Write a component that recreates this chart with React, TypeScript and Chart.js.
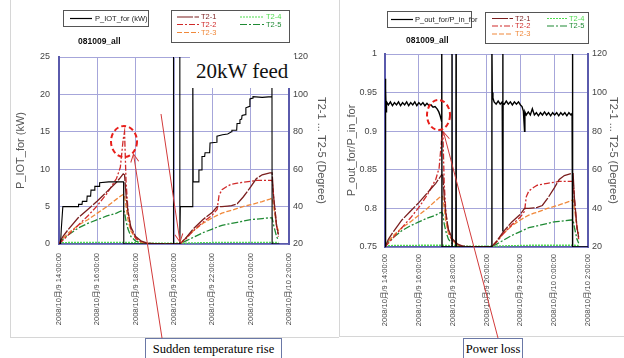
import React, { useEffect, useRef } from 'react';
import { Chart, registerables } from 'chart.js';

Chart.register(...registerables);

// ---------------- data ----------------
const X_TICK_HOURS = [14, 16, 18, 20, 22, 24, 26];
const X_TICK_LABELS = [
  '2008/10月/9 14:00:00',
  '2008/10月/9 16:00:00',
  '2008/10月/9 18:00:00',
  '2008/10月/9 20:00:00',
  '2008/10月/9 22:00:00',
  '2008/10月/10 0:00:00',
  '2008/10月/10 2:00:00',
];
const KW_TICKS = [0, 5, 10, 15, 20, 25];
const RATIO_TICKS = [0.75, 0.8, 0.85, 0.9, 0.95, 1];
const DEG_TICKS = [20, 40, 60, 80, 100, 120];

const T2_NAMES = ['T2-1', 'T2-2', 'T2-3', 'T2-4', 'T2-5'];

// P_IOT_for (kW) vs time (hours from 2008/10/9 0:00)
const P_TIME = [14.0, 14.08, 14.12, 14.2, 15.0, 15.02, 15.2, 15.22, 15.45, 15.47, 15.65, 15.67, 15.85, 15.87, 16.1,
  16.12, 16.6, 17.37, 17.38, 19.96, 19.97, 19.98, 20.29, 20.3, 20.31, 20.33, 20.97, 20.98, 21.0, 21.28,
  21.3, 21.44, 21.46, 21.6, 21.62, 21.86, 21.88, 22.22, 22.24, 22.53, 22.8, 23.0, 23.02, 23.27, 23.29,
  23.42, 23.44, 23.53, 23.55, 23.73, 23.75, 23.94, 23.96, 24.1, 24.12, 24.6, 25.1, 25.11, 25.12, 25.5];
const P_IOT = [0, 0, 2, 5, 5, 5.3, 5.3, 5.7, 5.7, 6.4, 6.4, 7.2, 7.2, 7.7, 7.7,
  8.2, 8.3, 8.3, 0, 0, 26, 0, 0, 26, 0, 5, 5, 26, 8.3, 8.3,
  9.9, 9.9, 11.7, 11.7, 12.2, 12.2, 13.5, 13.6, 14.4, 14.6, 14.7, 15.0, 15.2, 15.2, 16.1,
  16.1, 16.6, 16.7, 17.2, 17.3, 18.2, 18.4, 19.4, 19.5, 19.7, 19.6, 19.7, 26, 0, 0];

// P_out_for / P_in_for
const RATIO_TIME = [
  14.0, 14.02, 14.03, 14.05, 14.07, 14.09,
  14.2, 14.32, 14.44, 14.56, 14.68, 14.8, 14.92, 15.04, 15.16, 15.28, 15.4, 15.52, 15.64, 15.76, 15.88, 16.0, 16.12, 16.24, 16.36, 16.48, 16.6, 16.72, 16.84, 16.96,
  17.08, 17.18, 17.26, 17.32, 17.35, 17.36, 17.37,
  17.95, 17.96, 17.97, 18.19, 18.2, 18.21,
  20.31, 20.32, 20.34, 20.38, 20.45,
  20.57, 20.69, 20.81, 20.93, 20.96, 20.97, 20.975, 20.98, 21.05, 21.17, 21.29, 21.41, 21.53, 21.65, 21.77, 21.89, 22.01,
  22.1, 22.18, 22.25, 22.27, 22.35, 22.47, 22.59, 22.71, 22.83, 22.95, 23.07, 23.19, 23.31, 23.43, 23.55, 23.67, 23.79, 23.91, 24.03, 24.15, 24.27, 24.39, 24.51, 24.63, 24.75, 24.87, 24.99,
  25.06, 25.08, 25.1, 26.0];
const RATIO = [
  0.75, 0.75, 0.968, 0.955, 0.925, 0.938,
  0.934, 0.938, 0.933, 0.937, 0.934, 0.938, 0.933, 0.937, 0.934, 0.938, 0.933, 0.937, 0.934, 0.938, 0.933, 0.937, 0.934, 0.937, 0.933, 0.936, 0.933, 0.934, 0.931, 0.932,
  0.929, 0.925, 0.92, 0.915, 0.912, 1.01, 0.75,
  0.75, 1.01, 0.75, 0.75, 1.01, 0.75,
  0.75, 1.01, 0.95, 0.943, 0.938,
  0.935, 0.939, 0.935, 0.938, 0.937, 1.01, 0.77, 0.936, 0.935, 0.939, 0.935, 0.938, 0.934, 0.938, 0.935, 0.938, 0.934,
  0.932, 0.926, 0.9, 0.925, 0.921, 0.925, 0.921, 0.929, 0.921, 0.924, 0.92, 0.924, 0.921, 0.925, 0.921, 0.924, 0.92, 0.924, 0.921, 0.924, 0.92, 0.924, 0.921, 0.924, 0.92, 0.924, 0.921,
  0.923, 1.01, 0.75, 0.75];

// Temperatures (Degree)
const TEMP_TIME = [14.0, 14.2, 14.5, 15.0, 15.5, 16.0, 16.5, 17.0, 17.2, 17.35, 17.42, 17.5, 17.6, 17.75, 18.0, 18.3, 18.6, 19.0,
  20.3, 20.6, 21.0, 21.5, 22.0, 22.25, 22.35, 22.5, 22.8, 23.0, 23.3, 23.6, 24.0, 24.3, 24.6, 25.0, 25.12, 25.2, 25.35, 25.45];
const T2_1 = [20, 24, 28, 34, 38.5, 43, 48, 53, 55.5, 57.5, 57, 46, 37, 29, 24, 21.5, 20.5, 20.2,
  20, 23, 28, 33, 37, 40, 40, 40, 40.3, 40.5, 41.5, 45, 50.5, 55, 57, 58, 58, 45, 30, 25];
const T2_2 = [20, 22, 25, 30, 35, 40.5, 47, 55, 61, 76, 80, 53, 38, 28, 23, 21, 20.3, 20,
  20, 22.5, 27, 31.5, 35.5, 38.5, 46, 49, 51, 52, 52.5, 53, 53.5, 54, 54, 54, 54, 45, 30, 24];
const T2_3 = [20, 23, 26, 30, 33, 36.5, 40, 44, 45.5, 46.5, 46, 40, 33, 27, 23, 21, 20.3, 20,
  20, 23, 27, 31, 34, 35.3, 35.8, 36.5, 37.5, 38, 39, 40, 41, 41.8, 42.7, 44, 44.5, 40, 30, 27];
const T2_4 = [20.6, 20.7, 20.8, 20.8, 20.8, 20.9, 20.9, 20.9, 20.9, 20.9, 20.9, 20.9, 20.8, 20.8, 20.7, 20.6, 20.5, 20.4,
  20.4, 20.5, 20.6, 20.7, 20.8, 20.8, 20.8, 20.9, 20.9, 20.9, 20.9, 20.9, 20.9, 20.9, 20.9, 20.9, 20.9, 20.9, 20.8, 20.8];
const T2_5 = [20, 22.5, 25, 28.5, 31, 33, 35, 36.5, 37.5, 38, 37, 32, 28, 24, 21.5, 20.5, 20, 20,
  20, 21.5, 23.5, 26, 28, 29, 29.4, 30, 30.6, 31, 31.6, 32.2, 33, 33.3, 33.6, 34, 34, 30, 24, 22];
const T2_SERIES = [T2_1, T2_2, T2_3, T2_4, T2_5];

// ---------------- styles ----------------
const GRID = '#a6a6da';
const AXIS = '#5a5aac';
const TICK_COLOR = '#444';
const TITLE_COLOR = '#555';
const SANS = "'Liberation Sans', Arial, 'Noto Sans CJK JP', sans-serif";
const SERIF = "'Liberation Serif', 'Times New Roman', serif";
const T2_STYLES = [
  { color: '#7a1e1e', dash: [16, 1.5] },
  { color: '#d02a2a', dash: [6, 2, 2, 2] },
  { color: '#f0883a', dash: [5, 2] },
  { color: '#4fdc4f', dash: [2, 1] },
  { color: '#1f8a34', dash: [7, 2, 2, 2] },
];
const ANNOT = '#d23a3a';

const toXY = (t: number[], v: number[]) => t.map((x, i) => ({ x, y: v[i] }));
const fmt = (v: number) => String(+Number(v).toFixed(2));

type Spec = {
  time: number[]; values: number[]; label: string; yMin: number; yMax: number; yTicks: number[];
  yTitle: string; leftW: number; rightW: number; bottomH: number; padTop: number; mainWidth: number;
  leftTitlePad: number; rightTitlePad: number; leftTickPad: number; rightTickPad: number; xTickPad: number;
};

function panelConfig(p: Spec): any {
  return {
    type: 'line',
    data: {
      datasets: [
        { label: p.label, data: toXY(p.time, p.values), yAxisID: 'y', borderColor: '#000', borderWidth: p.mainWidth, pointRadius: 0, tension: 0 },
        ...T2_NAMES.map((name, i) => ({
          label: name, data: toXY(TEMP_TIME, T2_SERIES[i]), yAxisID: 'y1',
          borderColor: T2_STYLES[i].color, borderDash: T2_STYLES[i].dash, borderWidth: 1.3, pointRadius: 0, tension: 0,
        })),
      ],
    },
    options: {
      responsive: false,
      animation: false,
      layout: { padding: { top: p.padTop, left: 0, right: 0, bottom: 0 } },
      plugins: { legend: { display: false }, tooltip: { enabled: false } },
      scales: {
        x: {
          type: 'linear', position: 'bottom', min: 14, max: 26,
          afterBuildTicks: (s: any) => { s.ticks = X_TICK_HOURS.map((value) => ({ value })); },
          afterFit: (s: any) => { s.height = p.bottomH; },
          ticks: {
            autoSkip: false, minRotation: 90, maxRotation: 90, padding: p.xTickPad, color: TICK_COLOR,
            font: { family: SANS, size: 7.5 },
            callback: (_v: any, i: number) => X_TICK_LABELS[i],
          },
          grid: { color: GRID, lineWidth: 1, drawTicks: false },
          border: { color: AXIS, width: 1.5 },
        },
        y: {
          type: 'linear', position: 'left', min: p.yMin, max: p.yMax,
          afterBuildTicks: (s: any) => { s.ticks = p.yTicks.map((value) => ({ value })); },
          afterFit: (s: any) => { s.width = p.leftW; },
          ticks: { padding: p.leftTickPad, color: TICK_COLOR, font: { family: SANS, size: 9 }, callback: (v: any) => fmt(v) },
          grid: { color: GRID, lineWidth: 1, drawTicks: false },
          border: { color: AXIS, width: 2 },
          title: { display: true, text: p.yTitle, color: TITLE_COLOR, font: { family: SANS, size: 11 }, padding: { top: p.leftTitlePad, bottom: 0 } },
        },
        y1: {
          type: 'linear', position: 'right', min: 20, max: 120,
          afterBuildTicks: (s: any) => { s.ticks = DEG_TICKS.map((value) => ({ value })); },
          afterFit: (s: any) => { s.width = p.rightW; },
          ticks: { padding: p.rightTickPad, color: TICK_COLOR, font: { family: SANS, size: 9 }, callback: (v: any) => fmt(v) },
          grid: { display: false, drawTicks: false },
          border: { color: AXIS, width: 2 },
          title: { display: true, text: 'T2-1 ... T2-5 (Degree)', color: TITLE_COLOR, font: { family: SANS, size: 11 }, padding: { top: p.rightTitlePad, bottom: 0 } },
        },
      },
    },
  };
}

const LEFT_SPEC: Spec = {
  time: P_TIME, values: P_IOT, label: 'P_IOT_for (kW)', yMin: 0, yMax: 25, yTicks: KW_TICKS, yTitle: 'P_IOT_for (kW)',
  leftW: 49, rightW: 49, bottomH: 93, padTop: 57, mainWidth: 1.1, leftTitlePad: 4.4, rightTitlePad: 10.4, leftTickPad: 9, rightTickPad: 4, xTickPad: 9,
};
const RIGHT_SPEC: Spec = {
  time: RATIO_TIME, values: RATIO, label: 'P_out_for/P_in_for', yMin: 0.75, yMax: 1, yTicks: RATIO_TICKS, yTitle: 'P_out_for/P_in_for',
  leftW: 46, rightW: 36, bottomH: 90, padTop: 54, mainWidth: 1.4, leftTitlePad: 6.4, rightTitlePad: 4.4, leftTickPad: 8, rightTickPad: 4, xTickPad: 7,
};

const txt = (left: number, cy: number, size: number, color: string, extra: any = {}): any => ({
  position: 'absolute', left, top: cy, transform: 'translateY(-50%)', fontSize: size, lineHeight: 1,
  color, fontFamily: SANS, whiteSpace: 'nowrap', ...extra,
});
const box = (left: number, top: number, w: number, h: number): any => ({
  position: 'absolute', left, top, width: w, height: h, border: '1px solid #555', boxSizing: 'border-box', background: '#fff',
});

type LegendPos = { x: number; y: number; w: number };
const LEFT_T2_POS: LegendPos[] = [
  { x: 177, y: 17, w: 22 }, { x: 177, y: 24.5, w: 22 }, { x: 177, y: 32.5, w: 22 }, { x: 240, y: 17, w: 24 }, { x: 240, y: 24.5, w: 24 },
];
const RIGHT_T2_POS: LegendPos[] = [
  { x: 492, y: 18.5, w: 21 }, { x: 492, y: 26, w: 21 }, { x: 492, y: 34, w: 21 }, { x: 547, y: 18.5, w: 20 }, { x: 547, y: 26, w: 20 },
];

export default function App() {
  const leftRef = useRef<HTMLCanvasElement>(null);
  const rightRef = useRef<HTMLCanvasElement>(null);

  useEffect(() => {
    const c1 = new Chart(leftRef.current as HTMLCanvasElement, panelConfig(LEFT_SPEC));
    const c2 = new Chart(rightRef.current as HTMLCanvasElement, panelConfig(RIGHT_SPEC));
    return () => { c1.destroy(); c2.destroy(); };
  }, []);

  const t2Legend = (pos: LegendPos[]) =>
    T2_NAMES.map((name, i) => (
      <span key={name} style={txt(pos[i].x + pos[i].w + 2, pos[i].y, 7.5, T2_STYLES[i].color)}>{name}</span>
    ));

  return (
    <div style={{ position: 'absolute', left: 0, top: 0, width: 624, height: 358, background: '#fff', overflow: 'hidden' }}>
      <canvas ref={leftRef} width={328} height={337} style={{ position: 'absolute', left: 10, top: 0, width: 328, height: 337 }} />
      <canvas ref={rightRef} width={285} height={337} style={{ position: 'absolute', left: 339, top: 0, width: 285, height: 337 }} />

      {/* 20kW feed label */}
      <div style={{ position: 'absolute', left: 190, top: 55, width: 105, height: 33, background: '#fff',
        fontFamily: SERIF, fontSize: 21, lineHeight: '33px', textAlign: 'left', paddingLeft: 6, boxSizing: 'border-box', color: '#111', whiteSpace: 'nowrap' }}>20kW feed</div>

      {/* legend boxes */}
      <div style={box(63, 10, 86, 17)} />
      <div style={box(171, 10, 119, 33)} />
      <div style={box(387, 11, 85, 17)} />
      <div style={box(485, 12, 104, 32)} />

      <svg width={624} height={358} style={{ position: 'absolute', left: 0, top: 0 }}>
        <defs>
          <marker id="ah" markerUnits="userSpaceOnUse" markerWidth="10" markerHeight="10" refX="9" refY="5" orient="auto">
            <path d="M1,1 L9,5 L1,9" fill="none" stroke={ANNOT} strokeWidth="1" />
          </marker>
        </defs>
        {/* panel frames */}
        <line x1={10.5} y1={0} x2={10.5} y2={337.5} stroke="#d6d6d6" />
        <line x1={10} y1={337.5} x2={339} y2={337.5} stroke="#d6d6d6" />
        <line x1={339.5} y1={0} x2={339.5} y2={337} stroke="#d6d6d6" />
        <line x1={339} y1={336.5} x2={624} y2={336.5} stroke="#d6d6d6" />
        {/* legend samples */}
        <line x1={70} y1={18.5} x2={92} y2={18.5} stroke="#000" strokeWidth={1.2} />
        <line x1={391} y1={19.5} x2={413} y2={19.5} stroke="#000" strokeWidth={1.2} />
        {[LEFT_T2_POS, RIGHT_T2_POS].map((pos, k) =>
          pos.map((p, i) => (
            <line key={`${k}-${i}`} x1={p.x} y1={p.y} x2={p.x + p.w} y2={p.y} stroke={T2_STYLES[i].color}
              strokeWidth={1.2} strokeDasharray={T2_STYLES[i].dash.join(' ')} />
          )),
        )}
        {/* annotations */}
        <ellipse cx={124} cy={141.5} rx={13} ry={15.5} fill="none" stroke="#e8201c" strokeWidth={2} strokeDasharray="5 3" />
        <ellipse cx={438.5} cy={115} rx={11.5} ry={15} fill="none" stroke="#e8201c" strokeWidth={2} strokeDasharray="5 3" />
        <line x1={162} y1={338} x2={133.5} y2={154} stroke={ANNOT} strokeWidth={1} markerEnd="url(#ah)" />
        <line x1={161} y1={114} x2={180} y2={242} stroke={ANNOT} strokeWidth={1} markerEnd="url(#ah)" />
        <line x1={498} y1={338} x2={443.5} y2={132} stroke={ANNOT} strokeWidth={1} markerEnd="url(#ah)" />
      </svg>

      {/* legend text */}
      <span style={txt(95, 18.5, 7.5, '#222')}>P_IOT_for (kW)</span>
      <span style={txt(415, 19.5, 7.5, '#222')}>P_out_for/P_in_for</span>
      {t2Legend(LEFT_T2_POS)}
      {t2Legend(RIGHT_T2_POS)}
      <span style={txt(78, 41, 8.5, '#111', { fontWeight: 'bold' })}>081009_all</span>
      <span style={txt(406, 40, 8.5, '#111', { fontWeight: 'bold' })}>081009_all</span>

      {/* callouts */}
      <div style={{ position: 'absolute', left: 145, top: 338, width: 137, height: 24, border: '1px solid #6a78a6', boxSizing: 'border-box',
        background: '#fff', fontFamily: SERIF, fontSize: 12.5, lineHeight: '20px', textAlign: 'center', color: '#000', whiteSpace: 'nowrap' }}>
        Sudden temperature rise
      </div>
      <div style={{ position: 'absolute', left: 463, top: 338, width: 60, height: 24, border: '1px solid #6a78a6', boxSizing: 'border-box',
        background: '#fff', fontFamily: SERIF, fontSize: 12.5, lineHeight: '20px', textAlign: 'center', color: '#000', whiteSpace: 'nowrap' }}>
        Power loss
      </div>
    </div>
  );
}
